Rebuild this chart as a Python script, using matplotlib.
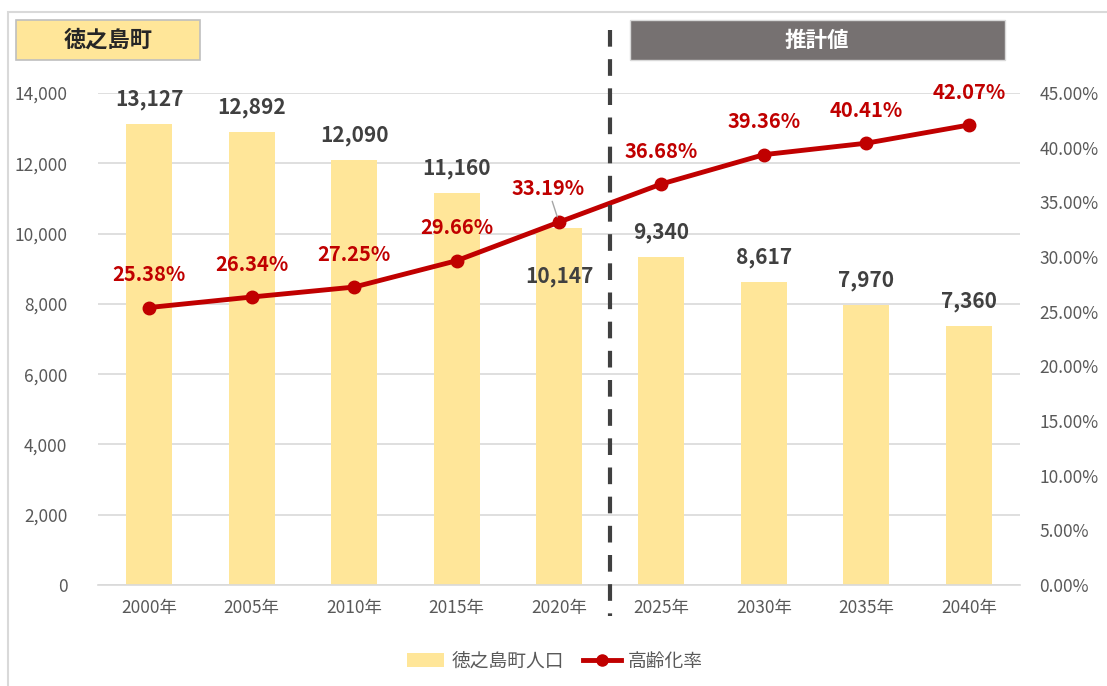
import matplotlib
matplotlib.use("Agg")
import matplotlib.pyplot as plt
from matplotlib.patches import Rectangle
from matplotlib.lines import Line2D
import numpy as np

plt.rcParams['font.family'] = ['Noto Sans CJK JP', 'DejaVu Sans']

years = ["2000年", "2005年", "2010年", "2015年", "2020年", "2025年", "2030年", "2035年", "2040年"]
population = [13127, 12892, 12090, 11160, 10147, 9340, 8617, 7970, 7360]
aging_rate = [25.38, 26.34, 27.25, 29.66, 33.19, 36.68, 39.36, 40.41, 42.07]
pop_ticks = [0, 2000, 4000, 6000, 8000, 10000, 12000, 14000]
rate_ticks = [0, 5, 10, 15, 20, 25, 30, 35, 40, 45]
bar_label = "徳之島町人口"
line_label = "高齢化率"
title_left = "徳之島町"
title_right = "推計値"

W, H = 1107, 686
fig = plt.figure(figsize=(W / 100, H / 100), dpi=100)
ax = fig.add_axes([98 / W, 1 - 585 / H, (1020 - 98) / W, (585 - 93) / H])
ax2 = ax.twinx()

x = np.arange(len(years))
bar_color = "#FFE699"
red = "#C00000"
gray_txt = "#595959"
dark_txt = "#404040"

ax.bar(x, population, width=0.45, color=bar_color, zorder=2)
ax.set_xlim(-0.5, len(years) - 0.5)
ax.set_ylim(0, 14000)
ax.set_yticks(pop_ticks)
ax.set_yticklabels([f"{v:,}" for v in pop_ticks])
ax.set_xticks(x)
ax.set_xticklabels(years)
ax.grid(axis='y', color="#D9D9D9", linewidth=1.2, zorder=0)
ax.set_axisbelow(True)
for s in ['top', 'left', 'right']:
    ax.spines[s].set_visible(False)
ax.spines['bottom'].set_color("#D9D9D9")
ax.spines['bottom'].set_linewidth(1.2)
ax.tick_params(axis='y', length=0, labelsize=12.5, colors=gray_txt, pad=22)
ax.tick_params(axis='x', length=0, labelsize=12.5, colors=gray_txt, pad=10)

ax2.plot(x, aging_rate, color=red, linewidth=3.5, marker='o', markersize=9, zorder=5)
ax2.set_ylim(0, 45)
ax2.set_yticks(rate_ticks)
ax2.set_yticklabels([f"{v:.2f}%" for v in rate_ticks])
for s in ['top', 'left', 'right', 'bottom']:
    ax2.spines[s].set_visible(False)
ax2.tick_params(axis='y', length=0, labelsize=12.5, colors=gray_txt, pad=14)

# bar labels
for i, v in enumerate(population):
    if i == 4:
        ax.annotate(f"{v:,}", (x[i], v), xytext=(0, -42), textcoords='offset points',
                    ha='center', va='bottom', fontsize=15, color=dark_txt, fontweight='bold', zorder=6)
    else:
        ax.annotate(f"{v:,}", (x[i], v), xytext=(0, 10), textcoords='offset points',
                    ha='center', va='bottom', fontsize=15, color=dark_txt, fontweight='bold', zorder=6)

# rate labels
for i, v in enumerate(aging_rate):
    if i == 4:
        ax2.annotate(f"{v:.2f}%", (x[i], v), xytext=(-8, 17), textcoords='offset points',
                     ha='center', va='bottom', fontsize=14.5, color=red, fontweight='bold', zorder=7,
                     arrowprops=dict(arrowstyle='-', color='#A6A6A6', lw=1, shrinkA=0, shrinkB=4))
    else:
        ax2.annotate(f"{v:.2f}%", (x[i], v), xytext=(0, 16), textcoords='offset points',
                     ha='center', va='bottom', fontsize=14.5, color=red, fontweight='bold', zorder=7)

# dashed divider
xdiv = ax.transData.transform((4.5, 0))[0] / W
fig.add_artist(Line2D([xdiv, xdiv], [1 - 30 / H, 1 - 616 / H], color="#404040",
                      linewidth=3, linestyle=(0, (4, 3))))

# title boxes
fig.add_artist(Rectangle((16 / W, 1 - 60 / H), (200 - 16) / W, 40 / H, transform=fig.transFigure,
                         facecolor=bar_color, edgecolor="#BFBFBF", linewidth=1.2))
fig.text(108 / W, 1 - 40 / H, title_left, ha='center', va='center', fontsize=16,
         fontweight='bold', color="#262626")
fig.add_artist(Rectangle((630 / W, 1 - 60 / H), (1005 - 630) / W, 40 / H, transform=fig.transFigure,
                         facecolor="#767171", edgecolor="#D9D9D9", linewidth=1))
fig.text(817 / W, 1 - 40 / H, title_right, ha='center', va='center', fontsize=15.5,
         fontweight='bold', color="white")

# outer frame
fig.add_artist(Rectangle((8 / W, -0.01), 1.1, 1 - 12 / H + 0.01, transform=fig.transFigure,
                         facecolor='none', edgecolor="#D9D9D9", linewidth=1.5))

# legend
handles = [Rectangle((0, 0), 1, 1, facecolor=bar_color, edgecolor='none'),
           Line2D([0], [0], color=red, linewidth=3.5, marker='o', markersize=8)]
fig.legend(handles, [bar_label, line_label], loc='center', bbox_to_anchor=(555 / W, 1 - 661 / H),
           ncol=2, frameon=False, fontsize=13.5, labelcolor=gray_txt, handlelength=2.0,
           columnspacing=1.0, handletextpad=0.4)

fig.savefig("out.png", dpi=100)
